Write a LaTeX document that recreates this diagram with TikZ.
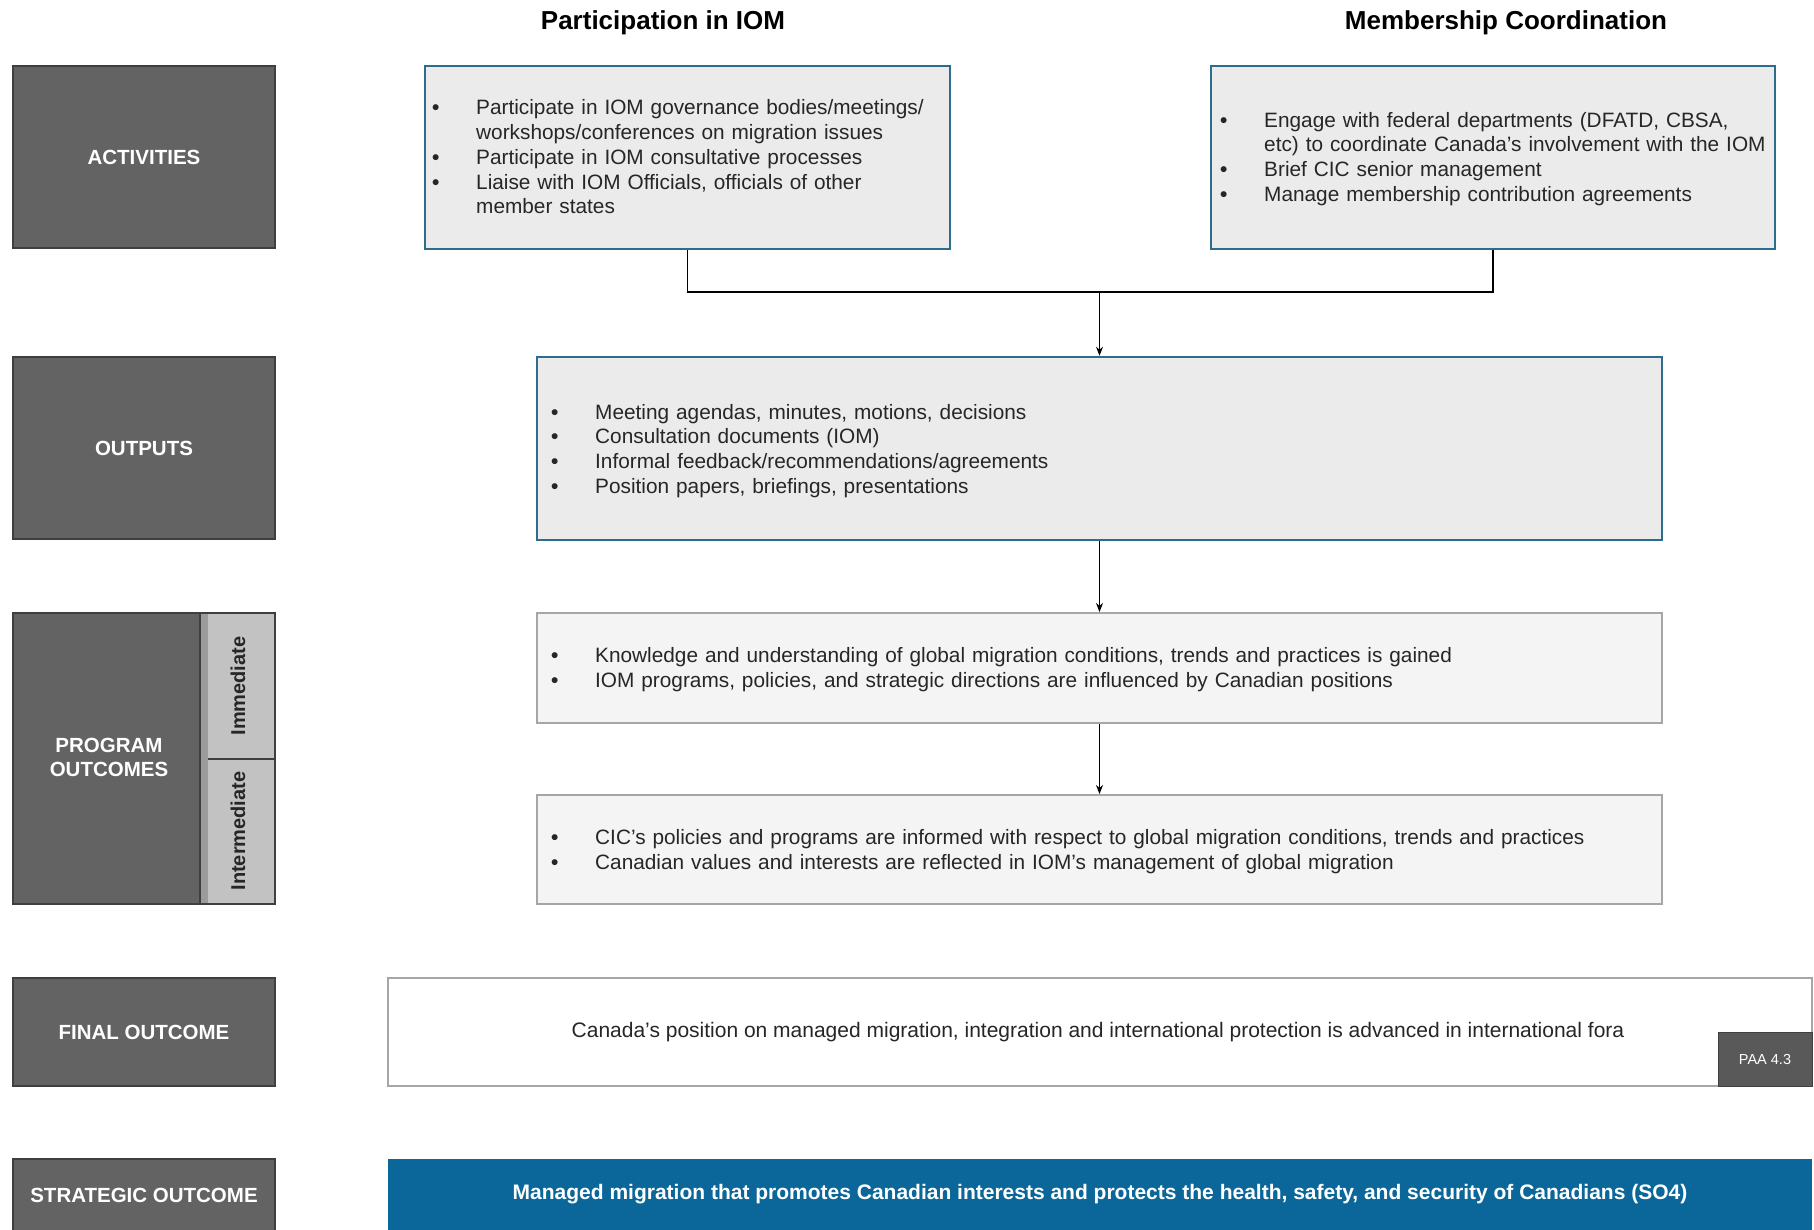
\documentclass[tikz,border=0pt]{standalone}
\usepackage{fontspec}
\setmainfont{Liberation Sans}
\usetikzlibrary{arrows.meta}
\definecolor{labelgray}{HTML}{636363}
\definecolor{labelborder}{HTML}{3F3F3F}
\definecolor{tabgray}{HTML}{C2C2C2}
\definecolor{tabstrip}{HTML}{9C9C9C}
\definecolor{boxfill}{HTML}{EBEBEB}
\definecolor{boxblue}{HTML}{2C6C8C}
\definecolor{outfill}{HTML}{F4F4F4}
\definecolor{outborder}{HTML}{A6A6A6}
\definecolor{sblue}{HTML}{0B6799}
\definecolor{txt}{HTML}{262626}
\definecolor{paagray}{HTML}{595959}
\newcommand{\bul}[1]{\par\hangindent=44pt\hangafter=1\noindent\makebox[44pt][l]{\textbf{\textbullet}}#1\par}
\tikzset{
  labelbox/.style={draw=labelborder, line width=1.5pt, fill=labelgray, text=white,
    font=\bfseries\fontsize{20.5}{24}\selectfont, align=center, inner sep=0pt},
  actbox/.style={draw=boxblue, line width=2.5pt, fill=boxfill, inner sep=0pt},
  resbox/.style={draw=outborder, line width=2pt, fill=outfill, inner sep=0pt},
  listtext/.style={anchor=west, inner sep=0pt, align=left, text=txt,
    font=\fontsize{20.8}{24.8}\selectfont},
  tabbox/.style={draw=labelborder, line width=1.2pt, fill=tabgray, inner sep=0pt},
  tabtext/.style={rotate=90, text=txt, font=\bfseries\fontsize{20}{24}\selectfont},
  title/.style={text=black, font=\bfseries\fontsize{26}{30}\selectfont},
  conn/.style={draw=black, line width=1.1pt},
  arr/.style={conn, -{Stealth[length=9pt, width=7pt]}}
}
\begin{document}
\begin{tikzpicture}[x=1pt, y=-1pt]
\useasboundingbox (0,0) rectangle (1814,1230);
% titles
\node[title] (t1) at (663,23) {Participation in IOM};
\node[title] (t2) at (1506,23) {Membership Coordination};
% left labels
\node[labelbox, minimum width=262, minimum height=182] (lact) at (144,157) {ACTIVITIES};
\node[labelbox, minimum width=262, minimum height=182] (lout) at (144,448) {OUTPUTS};
\node[labelbox, minimum width=262, minimum height=291] (lprog) at (144,758.5) {};
\node[text=white, font=\bfseries\fontsize{20.5}{24}\selectfont, align=center] (lprogt) at (109,757) {PROGRAM\\OUTCOMES};
\node[tabbox, minimum width=75, minimum height=146] (tabimm) at (237.5,686) {};
\node[tabbox, minimum width=75, minimum height=145] (tabint) at (237.5,831.5) {};
\fill[tabstrip] (200.6,613.8) rectangle (208,903.2);
\draw[labelborder, line width=1.2pt] (200,613) -- (200,904);
\node[tabtext] (timm) at (238,686) {Immediate};
\node[tabtext] (tint) at (238,831) {Intermediate};
\node[labelbox, minimum width=262, minimum height=108] (lfin) at (144,1032) {FINAL OUTCOME};
\node[labelbox, minimum width=262, minimum height=72] (lstr) at (144,1195) {STRATEGIC OUTCOME};
% activities
\node[actbox, minimum width=525, minimum height=183] (part) at (687.5,157.5) {};
\node[listtext, text width=515] (partT) at (432,152) {%
\bul{Participate in IOM governance bodies/meetings/\newline workshops/conferences on migration issues}
\bul{Participate in IOM consultative processes}
\bul{Liaise with IOM Officials, officials of other\newline member states}};
\node[actbox, minimum width=564, minimum height=183] (memb) at (1493,157.5) {};
\node[listtext, text width=570] (membT) at (1220,154) {%
\bul{Engage with federal departments (DFATD, CBSA,\newline etc) to coordinate Canada's involvement with the IOM}
\bul{Brief CIC senior management}
\bul{Manage membership contribution agreements}};
% outputs
\node[actbox, minimum width=1125, minimum height=183] (outs) at (1099.5,448.5) {};
\node[listtext, text width=1000] (outsT) at (551,446) {%
\bul{Meeting agendas, minutes, motions, decisions}
\bul{Consultation documents (IOM)}
\bul{Informal feedback/recommendations/agreements}
\bul{Position papers, briefings, presentations}};
% outcomes
\node[resbox, minimum width=1125, minimum height=110] (imm) at (1099.5,668) {};
\node[listtext, text width=1100] (immT) at (551,664.5) {%
\bul{Knowledge and understanding of global migration conditions, trends and practices is gained}
\bul{IOM programs, policies, and strategic directions are influenced by Canadian positions}};
\node[resbox, minimum width=1125, minimum height=109] (inter) at (1099.5,849.5) {};
\node[listtext, text width=1100] (interT) at (551,847) {%
\bul{CIC's policies and programs are informed with respect to global migration conditions, trends and practices}
\bul{Canadian values and interests are reflected in IOM's management of global migration}};
% final
\node[draw=outborder, line width=2pt, fill=white, minimum width=1424, minimum height=108, inner sep=0pt,
  text=txt, font=\fontsize{21}{24}\selectfont] (fin) at (1100,1032) {\hspace*{-4pt}Canada's position on managed migration, integration and international protection is advanced in international fora};
\node[draw=labelborder, line width=1pt, fill=paagray, minimum width=94, minimum height=54, inner sep=0pt,
  text=white, font=\fontsize{14.5}{16}\selectfont] (paa) at (1765,1059) {PAA 4.3};
% strategic
\node[fill=sblue, minimum width=1424, minimum height=71, inner sep=0pt, text=white,
  font=\bfseries\fontsize{21}{24}\selectfont] (strat) at (1100,1194.5) {Managed migration that promotes Canadian interests and protects the health, safety, and security of Canadians (SO4)};
% connectors
\coordinate (junc) at (1099.5,292);
\draw[conn] (part.south) |- (junc) -| (memb.south);
\draw[arr] (junc) -- (outs.north);
\draw[arr] (outs.south) -- (imm.north);
\draw[arr] (imm.south) -- (inter.north);
\end{tikzpicture}
\end{document}
